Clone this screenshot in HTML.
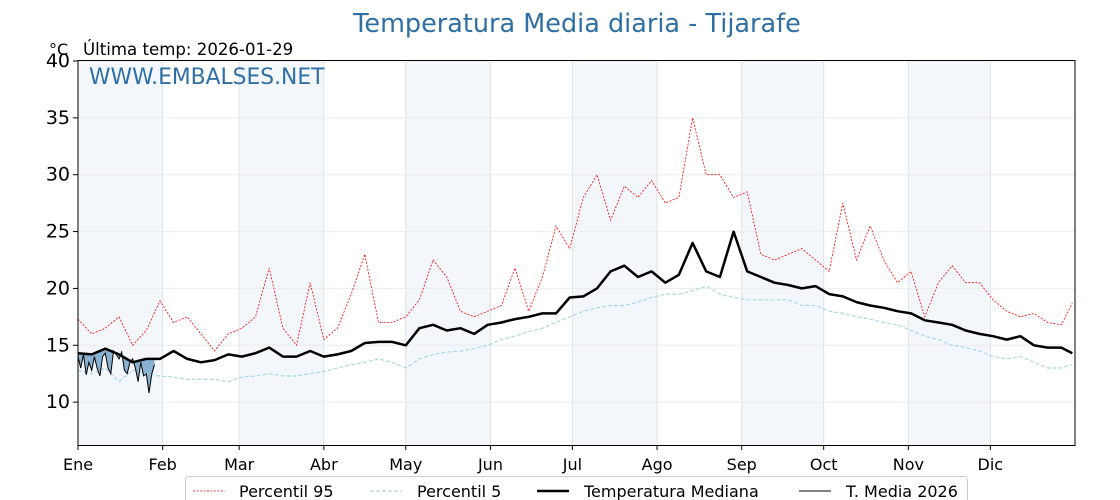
<!DOCTYPE html>
<html><head><meta charset="utf-8">
<style>
html,body{margin:0;padding:0;background:#fff;}
svg{display:block;font-family:"DejaVu Sans","Liberation Sans",sans-serif;}
</style></head>
<body>
<svg id="chart" width="1120" height="500" viewBox="0 0 1120 500" xmlns="http://www.w3.org/2000/svg">
<text x="577" y="32" text-anchor="middle" font-size="25.5" fill="#2f6fa3">Temperatura Media diaria - Tijarafe</text>
<text x="49" y="55" font-size="16" fill="#000">°C</text>
<text x="83" y="55" font-size="16.6" fill="#000">Última temp: 2026-01-29</text>
<g id="bands"></g>
<g id="grid"></g>
<g id="series"></g>
<text x="89" y="84" font-size="21.8" fill="#2f6fa3">WWW.EMBALSES.NET</text>
<rect x="78" y="60.5" width="997" height="385" fill="none" stroke="#000" stroke-width="1"/>
<g id="axes"></g>
<g>
<rect x="185.5" y="476.5" width="782" height="30" rx="3" fill="#fff" stroke="#ccc"/>
<line x1="193" y1="491" x2="225" y2="491" stroke="red" stroke-width="0.8" stroke-dasharray="2,1.5"/>
<text x="239" y="497" font-size="16">Percentil 95</text>
<line x1="370" y1="491" x2="402" y2="491" stroke="#add8e6" stroke-width="1.2" stroke-dasharray="4,2"/>
<text x="417" y="497" font-size="16">Percentil 5</text>
<line x1="537" y1="491" x2="569" y2="491" stroke="#000" stroke-width="2.5"/>
<text x="584" y="497" font-size="16">Temperatura Mediana</text>
<line x1="799" y1="491" x2="831" y2="491" stroke="#000" stroke-width="1"/>
<text x="846" y="497" font-size="16">T. Media 2026</text>
</g>
</svg>
<script>
const sampleDays = [0,5,10,15,20,25,30,35,40,45,50,55,60,65,70,75,80,85,90,95,100,105,110,115,120,125,130,135,140,145,150,155,160,165,170,175,180,185,190,195,200,205,210,215,220,225,230,235,240,245,250,255,260,265,270,275,280,285,290,295,300,305,310,315,320,325,330,335,340,345,350,355,360,364];
const p95 = [17.3,16,16.5,17.5,15,16.3,18.9,17,17.5,16,14.5,16,16.5,17.5,21.8,16.5,15,20.5,15.5,16.5,19.5,23,17,17,17.5,19,22.5,21,18,17.5,18,18.5,21.8,18,21,25.5,23.5,28,30,26,29,28,29.5,27.5,28,35,30,30,28,28.5,23,22.5,23,23.5,22.5,21.5,27.5,22.5,25.5,22.5,20.5,21.5,17.5,20.5,22,20.5,20.5,19,18,17.5,17.8,17,16.8,18.7,17];
const p5 = [12.8,12.5,13,11.8,12.8,12.5,12.3,12.2,12,12,12,11.8,12.2,12.3,12.5,12.3,12.3,12.5,12.7,13,13.3,13.5,13.8,13.5,13,13.8,14.2,14.4,14.5,14.7,15,15.5,15.8,16.2,16.5,17,17.5,18,18.3,18.5,18.5,18.8,19.2,19.5,19.5,19.8,20.2,19.5,19.2,19,19,19,19,18.5,18.5,18,17.8,17.5,17.3,17,16.8,16.3,15.8,15.5,15,14.8,14.5,14,13.8,14,13.5,13,13,13.3];
const median = [14.3,14.2,14.7,14.2,13.5,13.8,13.8,14.5,13.8,13.5,13.7,14.2,14,14.3,14.8,14,14,14.5,14,14.2,14.5,15.2,15.3,15.3,15,16.5,16.8,16.3,16.5,16,16.8,17,17.3,17.5,17.8,17.8,19.2,19.3,20,21.5,22,21,21.5,20.5,21.2,24,21.5,21,25,21.5,21,20.5,20.3,20,20.2,19.5,19.3,18.8,18.5,18.3,18,17.8,17.2,17,16.8,16.3,16,15.8,15.5,15.8,15,14.8,14.8,14.3];
const days2026 = [0,1,2,3,4,5,6,7,8,9,10,11,12,13,14,15,16,17,18,19,20,21,22,23,24,25,26,27,28];
const temp2026 = [14,13,14.2,12.4,13.5,12.8,14,13,12.3,14,14.3,13,12.5,14.5,14.2,13.8,14.4,12.8,12.5,13.5,13.8,13,11.8,13.5,12.3,12.5,10.8,12.5,13.3];
const yTicks = [10,15,20,25,30,35,40];
const monthLabels = ["Ene","Feb","Mar","Abr","May","Jun","Jul","Ago","Sep","Oct","Nov","Dic"];
const monthStarts = [0,31,59,90,120,151,181,212,243,273,304,334];

const X0=78,X1=1075,Y0=445,Y1=61;
const yMin=6.23,yMax=40,dMax=365;
const xs=d=>X0+(X1-X0)*d/dMax;
const ys=v=>Y0-(Y0-Y1)*(v-yMin)/(yMax-yMin);
const NS="http://www.w3.org/2000/svg";
function mk(tag,attrs,parent){const e=document.createElementNS(NS,tag);for(const k in attrs)e.setAttribute(k,attrs[k]);parent.appendChild(e);return e;}
const bands=document.getElementById('bands'),grid=document.getElementById('grid'),series=document.getElementById('series'),axes=document.getElementById('axes');

monthStarts.forEach((m,i)=>{
  const end=i<11?monthStarts[i+1]:365;
  if(i%2===0){
    const r=mk('rect',{x:xs(m),y:60.5,width:xs(end)-xs(m),height:385,fill:'#f3f7fb'},bands);
    
    
  }
  if(i>0){
    const g=mk('line',{x1:xs(m),x2:xs(m),y1:60.5,y2:445.5,stroke:'#dde3ea','stroke-width':1},grid);
    
    
  }
  const t=mk('line',{x1:xs(m),x2:xs(m),y1:445.5,y2:450,stroke:'#000'},axes);
  
  
  const l=mk('text',{x:xs(m),y:470,'font-size':16,'text-anchor':'middle'},axes);
  l.textContent=monthLabels[i];
  
  
});
yTicks.forEach(v=>{
  const y=ys(v);
  const g=mk('line',{x1:X0,x2:X1,y1:y,y2:y,stroke:'#ececec','stroke-width':1},grid);
  
  
  const t=mk('line',{x1:73,x2:78,y1:y,y2:y,stroke:'#000'},axes);
  
  
  const l=mk('text',{x:70,y:y+6,'font-size':19,'text-anchor':'end'},axes);
  l.textContent=v;
  
  
});
function pts(d,v){return d.map((x,i)=>xs(x).toFixed(1)+','+ys(v[i]).toFixed(1)).join(' ');}
const medAt=d=>{for(let i=0;i<sampleDays.length-1;i++){if(d>=sampleDays[i]&&d<=sampleDays[i+1]){const t=(d-sampleDays[i])/(sampleDays[i+1]-sampleDays[i]);return median[i]+t*(median[i+1]-median[i]);}}return median[median.length-1];};
const up=days2026.map(d=>xs(d).toFixed(1)+','+ys(medAt(d)).toFixed(1));
const fillPts=pts(days2026,temp2026)+' '+up.reverse().join(' ');
const f=mk('polygon',{points:fillPts,fill:'#4682b4','fill-opacity':0.6},series);


const a=mk('polyline',{points:pts(sampleDays,p95),fill:'none',stroke:'red','stroke-width':0.8,'stroke-dasharray':'2,1.5'},series);


const b=mk('polyline',{points:pts(sampleDays,p5),fill:'none',stroke:'#add8e6','stroke-width':1.2,'stroke-dasharray':'4,2'},series);


const c=mk('polyline',{points:pts(sampleDays,median),fill:'none',stroke:'#000','stroke-width':2.5,'stroke-linejoin':'round'},series);


const e=mk('polyline',{points:pts(days2026,temp2026),fill:'none',stroke:'#000','stroke-width':1},series);


</script>
</body></html>
